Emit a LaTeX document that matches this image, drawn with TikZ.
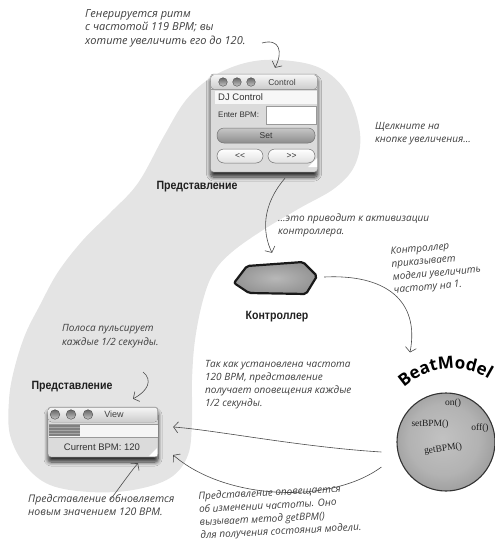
\documentclass[tikz,border=0pt]{standalone}
\usepackage{fontspec}
\setmainfont{Liberation Sans}
\newfontfamily\hand{Open Sans}
\newfontfamily\lblfont{Liberation Sans}[FakeStretch=0.88]
\newfontfamily\uifont{Liberation Sans}
\newfontfamily\serfont{Liberation Serif}
\usetikzlibrary{arrows.meta,shadows.blur,decorations.text}
\definecolor{blobc}{HTML}{E4E4E4}
\definecolor{ink}{HTML}{3E3E3E}
\definecolor{arrc}{HTML}{4A4A4A}
\pgfdeclareradialshading{ballgray}{\pgfpoint{-2bp}{2bp}}{%
  color(0bp)=(black!24); color(18bp)=(black!30); color(27bp)=(black!38); color(32bp)=(black!50); color(35bp)=(black!62); color(50bp)=(black!62)}
\begin{document}
\begin{tikzpicture}[x=1pt,y=-1pt,
  note/.style={font=\hand\itshape\fontsize{10}{13}\selectfont, text=ink, align=left, anchor=north west, inner sep=0pt},
  lbl/.style={font=\lblfont\bfseries\fontsize{12}{14}\selectfont, text=black!88, inner sep=0pt},
  hw/.style={draw=arrc, line width=0.6pt, -{Straight Barb[length=4.5pt,width=11pt,line width=0.6pt]}},
  win/.style={draw=black!45, line width=0.4pt, fill=black!14, rounded corners=3pt, inner sep=0pt,
    blur shadow={shadow xshift=0pt, shadow yshift=-5pt, shadow blur radius=4pt, shadow blur steps=8, shadow opacity=80}},
  lamp/.style={top color=black!60, bottom color=black!22, draw=black!70, line width=0.4pt},
  uitext/.style={font=\uifont\fontsize{8.5}{10}\selectfont, text=black!80, inner sep=0pt},
  pill/.style={draw=black!55, line width=0.5pt, rounded corners=7pt},
  meth/.style={font=\serfont\fontsize{9.5}{10}\selectfont, text=black!88, inner sep=0pt}
]
\useasboundingbox (0,0) rectangle (495,544);

% gray region
\fill[blobc] plot[smooth cycle, tension=0.6] coordinates {
 (280,60) (320,68) (347,93) (360,133) (355,165) (335,188) (300,208) (263,230)
 (232,252) (214,272) (203,300) (195,340) (192,380) (192,420) (188,455) (170,478)
 (133,490) (90,492) (50,485) (25,465) (10,435) (9,400) (14,370) (25,335)
 (40,305) (58,272) (83,240) (110,213) (138,183) (164,136) (186,100) (212,77) (245,63)};

% ---------- Control window ----------
\node[win, minimum width=107pt, minimum height=98pt] (control) at (264,123) {};
\fill[top color=black!4, bottom color=black!20, rounded corners=3pt] (211,75) rectangle (317,89);
\draw[black!40, line width=0.3pt] (211,89) -- (317,89);
\foreach \cx in {223,237,251} \draw[lamp] (\cx,82) circle (4.3pt);
\node[uitext, text=black!75] (ctitle) at (282,82) {Control};
\fill[black!3] (215,91) rectangle (317,104);
\node[uitext, anchor=west, font=\uifont\fontsize{9.5}{10}\selectfont] (djc) at (218,97.5) {DJ Control};
\node[uitext, anchor=west, font=\uifont\fontsize{8}{10}\selectfont] (ebpm) at (218,115) {Enter BPM:};
\draw[fill=white, draw=black!40, line width=0.4pt] (266,106) rectangle (316,124);
\draw[pill, top color=black!22, bottom color=black!45] (217,128) rectangle (315,143);
\node[uitext] (setb) at (266,135.5) {Set};
\draw[pill, top color=white, bottom color=black!12] (217,149) rectangle (263,163);
\draw[pill, top color=white, bottom color=black!12] (268,149) rectangle (315,163);
\node[uitext] (prevb) at (240,156) {<<};
\node[uitext] (nextb) at (291.5,156) {>>};
\fill[white] (308,167) -- (317,158) -- (317,167) -- cycle;

% ---------- View window ----------
\node[win, minimum width=110pt, minimum height=50pt] (view) at (103,432) {};
\fill[top color=black!4, bottom color=black!20, rounded corners=3pt] (48.5,407.5) rectangle (157.5,422);
\foreach \cx in {55,71,88} \draw[lamp] (\cx,414.5) circle (4.8pt);
\node[uitext, text=black!75, font=\uifont\fontsize{9}{10}\selectfont] (vtitle) at (114,414.5) {View};
\fill[black!4] (48.5,424) rectangle (157.5,437);
\fill[black!50] (48.5,425) rectangle (80,436);
\foreach \yy in {427,430,433} \draw[black!35, line width=0.6pt] (48.5,\yy) -- (80,\yy);
\draw[black!40, line width=0.3pt] (48.5,424) -- (157.5,424) (48.5,437) -- (157.5,437);
\node[uitext, font=\uifont\fontsize{9.5}{10}\selectfont] (curbpm) at (102,447.5) {Current BPM: 120};
\fill[white] (149,456) -- (157,448) -- (157,456) -- cycle;

% ---------- Controller ----------
\node[inner sep=0pt, minimum width=84pt, minimum height=32pt] (ctrl) at (276,279) {};
\draw[draw=black!90, line width=2.2pt, rounded corners=2pt, inner color=black!28, outer color=black!42]
  (234,283) -- (247,266) -- (303,262) -- (317,276) -- (306,294) -- (249,293) -- cycle;

% ---------- BeatModel ----------
\node[circle, minimum size=98pt, inner sep=0pt, shading=ballgray, draw=black!80, line width=1.1pt] (model) at (446,442) {};
\node[meth] (mon) at (453,403) {on()};
\node[meth] (mset) at (430,424) {setBPM()};
\node[meth] (moff) at (480,428) {off()};
\node[meth, rotate=8] (mget) at (443,449) {getBPM()};
\path[decorate, decoration={text along path, text align=center,
  text={|\hand\bfseries\fontsize{17}{17}\selectfont|BeatModel}}]
  (397,395) .. controls (425,363) and (468,361) .. (497,385);

% ---------- labels ----------
\node[lbl] (view1lbl) at (197,187) {Представление};
\node[lbl] (ctrllbl) at (277,317) {Контроллер};
\node[lbl] (view2lbl) at (72,387) {Представление};

% ---------- notes ----------
\node[note, font=\hand\itshape\fontsize{11}{13.5}\selectfont] (n1) at (85,9) {Генерируется ритм\\с частотой 119 BPM; вы\\хотите увеличить его до 120.};
\node[note] (n2) at (375,122) {Щелкните на\\кнопке увеличения...};
\node[note] (n3) at (278,214) {...это приводит к активизации\\контроллера.};
\node[note, rotate=5] (n4) at (390,247) {Контроллер\\приказывает\\модели увеличить\\частоту на 1.};
\node[note, font=\hand\itshape\fontsize{10}{14}\selectfont] (n5) at (62,324) {Полоса пульсирует\\каждые 1/2 секунды.};
\node[note] (n6) at (205,360) {Так как установлена частота\\120 BPM, представление\\получает оповещения каждые\\1/2 секунды.};
\node[note, font=\hand\itshape\fontsize{10.5}{13.5}\selectfont] (n7) at (28,494) {Представление обновляется\\новым значением 120 BPM.};
\node[note, rotate=3] (n8) at (198,492) {Представление оповещается\\об изменении частоты. Оно\\вызывает метод getBPM()\\для получения состояния модели.};

% ---------- connectors ----------
\coordinate (a1s) at (262,43);
\draw[hw] (a1s) .. controls (280,38) and (283,52) .. ([xshift=11pt,yshift=6pt]control.north);
\draw[hw] ([xshift=21pt,yshift=-6pt]control.south) .. controls (262,205) and (262,232) .. ([xshift=-4pt,yshift=10pt]ctrl.north);
\draw[hw] ([xshift=6pt,yshift=2pt]ctrl.east) .. controls (385,274) and (420,300) .. ([xshift=-36pt,yshift=40pt]model.north);
\draw[hw] ([xshift=-15pt,yshift=-10pt]model.west) .. controls (300,447) and (215,430) .. ([xshift=15pt,yshift=5pt]view.east);
\draw[hw] ([xshift=-15pt,yshift=-25pt]model.west) .. controls (330,505) and (225,500) .. ([xshift=15pt,yshift=-23pt]view.east);
\coordinate (a6s) at (143,372);
\draw[hw] (a6s) .. controls (153,380) and (148,391) .. ([xshift=30pt,yshift=8pt]view.north);
\coordinate (a7s) at (110,500);
\draw[hw] (a7s) .. controls (118,490) and (128,475) .. ([xshift=35pt,yshift=-6pt]view.south);
\end{tikzpicture}
\end{document}
